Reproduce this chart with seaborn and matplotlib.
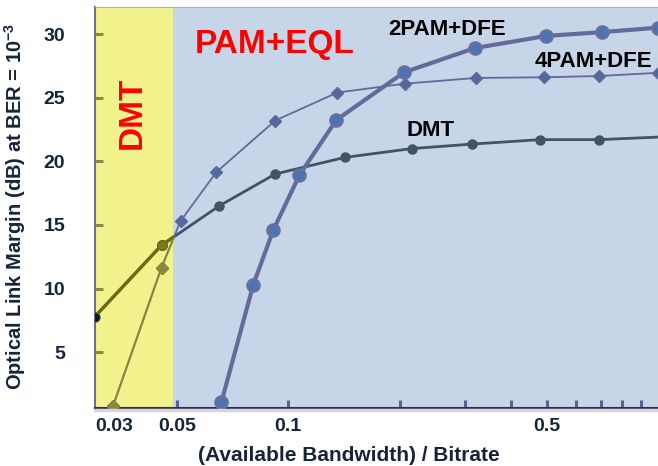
import matplotlib
matplotlib.use("Agg")
import matplotlib.pyplot as plt
import seaborn as sns
from matplotlib.patches import Rectangle
from matplotlib.lines import Line2D
from matplotlib.ticker import FixedLocator, NullFormatter

# ---------------- data ----------------
dmt_x = [0.03, 0.0454, 0.0651, 0.0922, 0.142, 0.216, 0.314, 0.480, 0.693, 1.0]
dmt_y = [7.8, 13.4, 16.5, 19.0, 20.3, 21.0, 21.35, 21.7, 21.7, 21.9]

pam4_x = [0.0336, 0.0454, 0.0511, 0.0639, 0.0922, 0.1357, 0.207, 0.322, 0.492, 0.693, 1.0]
pam4_y = [0.8, 11.65, 15.3, 19.15, 23.2, 25.4, 26.1, 26.55, 26.6, 26.7, 26.95]

pam2_x = [0.0659, 0.0804, 0.0911, 0.1071, 0.1349, 0.206, 0.32, 0.498, 0.706, 1.0]
pam2_y = [1.05, 10.3, 14.6, 18.9, 23.25, 27.0, 28.9, 29.85, 30.15, 30.5]

x_tick_values = [0.03, 0.05, 0.1, 0.5]
x_tick_labels = ["0.03", "0.05", "0.1", "0.5"]
x_minor_ticks = [0.2, 0.3, 0.4, 0.6, 0.7, 0.8, 0.9]
y_tick_values = [5, 10, 15, 20, 25, 30]
dmt_region = (0.03, 0.0489)

# ---------------- style ----------------
sns.set_theme(style="ticks")
plt.rcParams["font.family"] = ["Liberation Sans", "DejaVu Sans"]
plt.rcParams["font.weight"] = "bold"
plt.rcParams["axes.labelweight"] = "bold"
plt.rcParams["mathtext.fontset"] = "custom"
plt.rcParams["mathtext.rm"] = "Liberation Sans:bold"
plt.rcParams["mathtext.it"] = "Liberation Sans:bold"
plt.rcParams["mathtext.bf"] = "Liberation Sans:bold"

W, H = 658, 466
fig = plt.figure(figsize=(W / 100, H / 100), dpi=100)
fig.patch.set_facecolor("white")
ax = fig.add_axes([95 / W, 1 - 407.5 / H, (658 - 95) / W, (407.5 - 7.3) / H])
ax.set_facecolor("#c6d5e8")
ax.set_xscale("log")
ax.set_xlim(0.03, 1.0)
ax.set_ylim(0.65, 32.1)

# yellow DMT region
ax.add_patch(Rectangle((dmt_region[0], 0), dmt_region[1] - dmt_region[0], 1,
                       transform=ax.get_xaxis_transform(), facecolor="#f2f28c",
                       edgecolor="none", zorder=0.5))

# ---------------- series ----------------
sns.lineplot(x=dmt_x, y=dmt_y, ax=ax, sort=False, estimator=None,
             color="#3f5466", linewidth=2.0, marker="o", markersize=6.5,
             markerfacecolor="#3f5466", markeredgecolor="#3f5466",
             markeredgewidth=1, markevery=list(range(len(dmt_x) - 1)), zorder=3)
sns.lineplot(x=pam4_x, y=pam4_y, ax=ax, sort=False, estimator=None,
             color="#62699a", linewidth=1.3, marker="D", markersize=6,
             markerfacecolor="#50699e", markeredgecolor="#62699a",
             markeredgewidth=1, zorder=3)
sns.lineplot(x=pam2_x, y=pam2_y, ax=ax, sort=False, estimator=None,
             color="#646b9c", linewidth=3.0, marker="o", markersize=9,
             markerfacecolor="#4a74b2", markeredgecolor="#6b6f9e",
             markeredgewidth=1.5, zorder=3)

# olive tint of the parts lying in the yellow DMT region
clip = Rectangle((dmt_region[0], 0), dmt_region[1] - dmt_region[0], 1,
                 transform=ax.get_xaxis_transform())
ov = []
ov += ax.plot(dmt_x, dmt_y, color="#6b6b12", linewidth=2.4, marker="o",
              markersize=7, markerfacecolor="#7a7a1c", markeredgecolor="#6b6b12",
              markevery=[1], zorder=4)
ov += ax.plot(pam4_x, pam4_y, color="#8a883a", linewidth=1.4, marker="D",
              markersize=6, markerfacecolor="#8a8a40", markeredgecolor="#8a883a",
              zorder=4)
ov += ax.plot(dmt_x[:1], dmt_y[:1], linestyle="none", marker="o", markersize=5,
              color="#101820", zorder=5, clip_on=True)
for ln in ov[:2]:
    ln.set_clip_path(clip)

# ---------------- axes, ticks ----------------
ax.xaxis.set_major_locator(FixedLocator(x_tick_values))
ax.set_xticklabels(x_tick_labels)
ax.xaxis.set_minor_locator(FixedLocator(x_minor_ticks))
ax.xaxis.set_minor_formatter(NullFormatter())
ax.tick_params(axis="x", which="both", direction="in", length=6, width=2.2,
               color="#5a6494", pad=7.5, labelsize=14, labelcolor="#16243a")
ax.xaxis.get_major_ticks()[0].tick1line.set_visible(False)
ax.get_xticklabels()[0].set_ha("left")

ax.set_yticks(y_tick_values)
ax.tick_params(axis="y", direction="in", length=6, width=2.2, color="#8a8a3c",
               pad=21.5, labelsize=14, labelcolor="#16243a")

for s in ["top", "right", "left", "bottom"]:
    ax.spines[s].set_visible(True)
ax.spines["top"].set_color("#a8b0c8")
ax.spines["top"].set_linewidth(0.8)
ax.spines["right"].set_visible(False)
ax.spines["left"].set_color("#6e6e9e")
ax.spines["left"].set_linewidth(1.5)
ax.spines["bottom"].set_color("#2b2d5a")
ax.spines["bottom"].set_linewidth(1.5)
fig.add_artist(Line2D([95 / W, 1], [1 - 410 / H] * 2, color="#d6d6da", lw=2.5))

ax.set_xlabel("(Available Bandwidth) / Bitrate", fontsize=15, fontweight="bold",
              color="#16243a")
ax.xaxis.set_label_coords((349 - 95) / 563, (407.5 - 461) / 400.2)
ax.xaxis.label.set_va("baseline")
ax.set_ylabel("Optical Link Margin (dB) at BER = 10$^{-3}$", fontsize=14.5,
              fontweight="bold", color="#16243a")
ax.yaxis.label.set_va("center")
ax.yaxis.label.set_ha("center")
ax.yaxis.set_label_coords((15.5 - 95) / 563, (407.5 - 206.5) / 400.2)

# ---------------- annotations ----------------
def fp(x, y):
    return (x / W, 1 - y / H)

fig.text(*fp(195, 53.3), "PAM+EQL", color="#ff0000", fontsize=24,
         fontweight="bold", ha="left", va="baseline")
fig.text(*fp(132.5, 113.3), "DMT", color="#ff0000", fontsize=24,
         fontweight="bold", rotation=90, ha="center", va="center")
fig.text(*fp(388, 35), "2PAM+DFE", color="#000000", fontsize=16,
         fontweight="bold", ha="left", va="baseline")
fig.text(*fp(535, 66.7), "4PAM+DFE", color="#000000", fontsize=16,
         fontweight="bold", ha="left", va="baseline")
fig.text(*fp(406, 136), "DMT", color="#000000", fontsize=16,
         fontweight="bold", ha="left", va="baseline")

fig.savefig("out.png", dpi=100)
